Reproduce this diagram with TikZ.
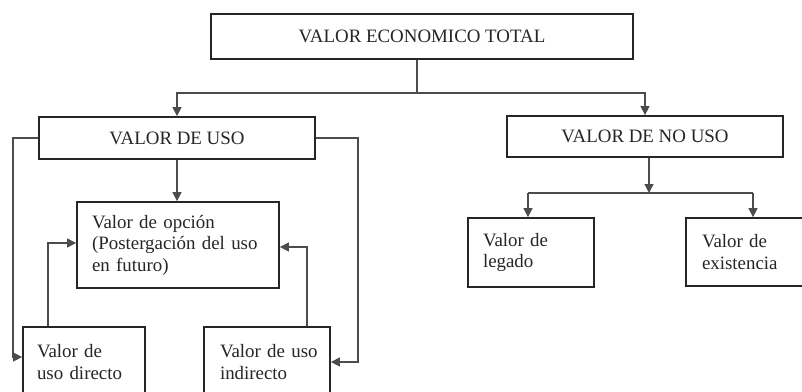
\documentclass[tikz,border=0pt]{standalone}
\usepackage{fontspec}
\setmainfont{Liberation Serif}
\usetikzlibrary{arrows.meta}
\tikzset{
  box/.style={draw=black!85, line width=1.8pt, rectangle, inner sep=0pt,
    font=\fontsize{18.9}{21.5}\selectfont, text=black!85},
  lbox/.style={box, align=left, inner xsep=0pt, execute at begin node={\leftskip=#1\relax}},
  conn/.style={draw=black!70, line width=1.3pt},
  arr/.style={conn, -{Triangle[length=9pt,width=9pt]}}
}
\begin{document}
\begin{tikzpicture}[x=1pt,y=-1pt]
\path[use as bounding box, fill=white] (0,0) rectangle (802,391);
\clip (0,0) rectangle (802,391);
% boxes
\node[box, minimum width=422pt, minimum height=45pt] (vet) at (422,36.5) {VALOR ECONOMICO TOTAL};
\node[box, minimum width=276pt, minimum height=42pt] (vu) at (177,138) {VALOR DE USO};
\node[box, minimum width=276pt, minimum height=41pt] (vnu) at (645,136.5) {VALOR DE NO USO};
\node[lbox=15pt, text width=202pt, minimum height=86pt] (op) at (178,245) {Valor de opción\\(Postergación del uso\\en futuro)};
\node[lbox=14pt, text width=122pt, minimum height=70pt] (dir) at (84,362) {Valor de\\uso directo};
\node[lbox=16pt, text width=126pt, minimum height=70pt] (ind) at (267,362) {Valor de uso\\indirecto};
\node[lbox=15pt, text width=126pt, minimum height=69pt] (leg) at (531,252.5) {Valor de\\legado};
\node[lbox=16pt, text width=126pt, minimum height=68pt] (ex) at (749,252) {Valor de\\existencia};
% junction coordinates
\coordinate (j1) at (417,93);
\coordinate (dl) at (13,357);
\coordinate (rl) at (358,362);
\coordinate (da) at (48,243);
\coordinate (ia) at (307,247);
\coordinate (j2) at (649,193);
\coordinate (jl) at (528,193);
\coordinate (jr) at (753,193);
% connectors
\draw[conn] (vet.south -| j1) -- (j1);
\draw[arr] (j1) -| (vu.north);
\draw[arr] (j1) -| (vnu.north);
\draw[arr] (vu.south) -- (vu.south |- op.north);
\draw[arr] (vu.west) -| (dl) -- (dl -| dir.west);
\draw[arr] (vu.east) -| (rl) -- (ind.east);
\draw[arr] (dir.north -| da) -- (da) -- (da -| op.west);
\draw[arr] (ind.north -| ia) -- (ia) -- (ia -| op.east);
\draw[arr] (vnu.south -| j2) -- (j2);
\draw[conn] (jl) -- (jr);
\draw[arr] (jl) -- (jl |- leg.north);
\draw[arr] (jr) -- (jr |- ex.north);
\end{tikzpicture}
\end{document}
